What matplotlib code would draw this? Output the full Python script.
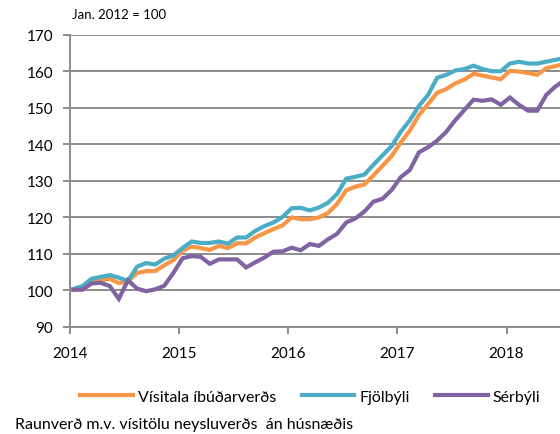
import matplotlib
matplotlib.use("Agg")
import matplotlib.pyplot as plt
import numpy as np

# monthly index values, Jan 2014 - Jul 2018 (Jan 2012 = 100)
visitala = [100.2, 100.9, 102.6, 102.8, 103.2, 102.0, 102.5, 104.8, 105.3, 105.3,
            106.9, 108.3, 110.9, 112.0, 111.6, 111.1, 112.2, 111.6, 112.9, 112.9,
            114.5, 115.7, 116.8, 117.8, 120.0, 119.5, 119.5, 120.0, 121.2, 123.7,
            127.4, 128.4, 129.0, 131.5, 134.1, 136.8, 140.5, 143.8, 148.0, 151.0,
            154.1, 155.1, 156.7, 157.7, 159.3, 158.8, 158.3, 157.8, 160.1, 159.9,
            159.5, 159.0, 160.8, 161.4, 162.0]
fjolbyli = [100.4, 101.2, 103.2, 103.7, 104.2, 103.5, 102.6, 106.5, 107.5, 107.1,
            108.7, 109.6, 111.6, 113.4, 113.0, 113.0, 113.4, 112.8, 114.5, 114.5,
            116.3, 117.6, 118.6, 120.1, 122.5, 122.6, 121.9, 122.7, 124.0, 126.4,
            130.6, 131.1, 131.7, 134.4, 137.0, 139.5, 143.4, 146.6, 150.5, 153.5,
            158.2, 159.0, 160.2, 160.6, 161.5, 160.6, 160.0, 160.0, 162.1, 162.6,
            162.1, 162.1, 162.6, 163.1, 163.6]
serbyli = [100.2, 100.2, 101.9, 102.1, 101.2, 97.7, 102.8, 100.5, 99.8, 100.3,
           101.3, 104.8, 108.8, 109.4, 109.2, 107.3, 108.5, 108.5, 108.5, 106.3,
           107.7, 109.0, 110.6, 110.7, 111.7, 111.0, 112.7, 112.2, 114.0, 115.5,
           118.6, 119.7, 121.6, 124.3, 125.1, 127.5, 131.0, 133.0, 137.8, 139.2,
           141.0, 143.4, 146.6, 149.4, 152.2, 151.9, 152.3, 150.8, 152.8, 150.8,
           149.2, 149.2, 153.5, 155.8, 157.5]
labels = ["Vísitala íbúðarverðs", "Fjölbýli", "Sérbýli"]
colors = ["#F79646", "#4BACC6", "#8064A2"]
years = [2014, 2015, 2016, 2017, 2018]

plt.rcParams['font.family'] = ['Lato', 'DejaVu Sans']

months = np.arange(len(visitala))
x = 2014 + (months + 0.37) / 12

fig = plt.figure(figsize=(5.6, 4.35), dpi=100)
ax = fig.add_axes([0.125, 0.246, 0.875, 0.672])

for series, lab, col in zip([visitala, fjolbyli, serbyli], labels, colors):
    ax.plot(x, series, color=col, lw=3.0, label=lab, solid_joinstyle='miter')

ax.set_ylim(90, 170)
ax.set_yticks(range(90, 171, 10))
ax.set_xlim(2014, 2018.49)
ax.set_xticks(years)
ax.set_xticklabels([str(y) for y in years])
ax.yaxis.grid(True, color="#8C8C8C", lw=1.4)
ax.set_axisbelow(True)

for s in ["top", "right"]:
    ax.spines[s].set_visible(False)
for s in ["left", "bottom"]:
    ax.spines[s].set_color("#8C8C8C")
    ax.spines[s].set_linewidth(1.4)
ax.tick_params(axis="both", colors="#8C8C8C", width=1.4, length=5, labelsize=11,
               labelcolor="black")
ax.tick_params(axis="x", pad=9)
ax.tick_params(axis="y", pad=7)

fig.text(0.128, 0.965, "Jan. 2012 = 100", fontsize=9.5, va="center")

fig.legend(loc="center", bbox_to_anchor=(0.554, 0.086), ncol=3, frameon=False,
           fontsize=11.5, handlelength=3.3, handletextpad=0.3, columnspacing=1.6)
fig.text(0.027, 0.024, "Raunverð m.v. vísitölu neysluverðs  án húsnæðis",
         fontsize=11.5, va="center")

fig.savefig("out.png", dpi=100)
